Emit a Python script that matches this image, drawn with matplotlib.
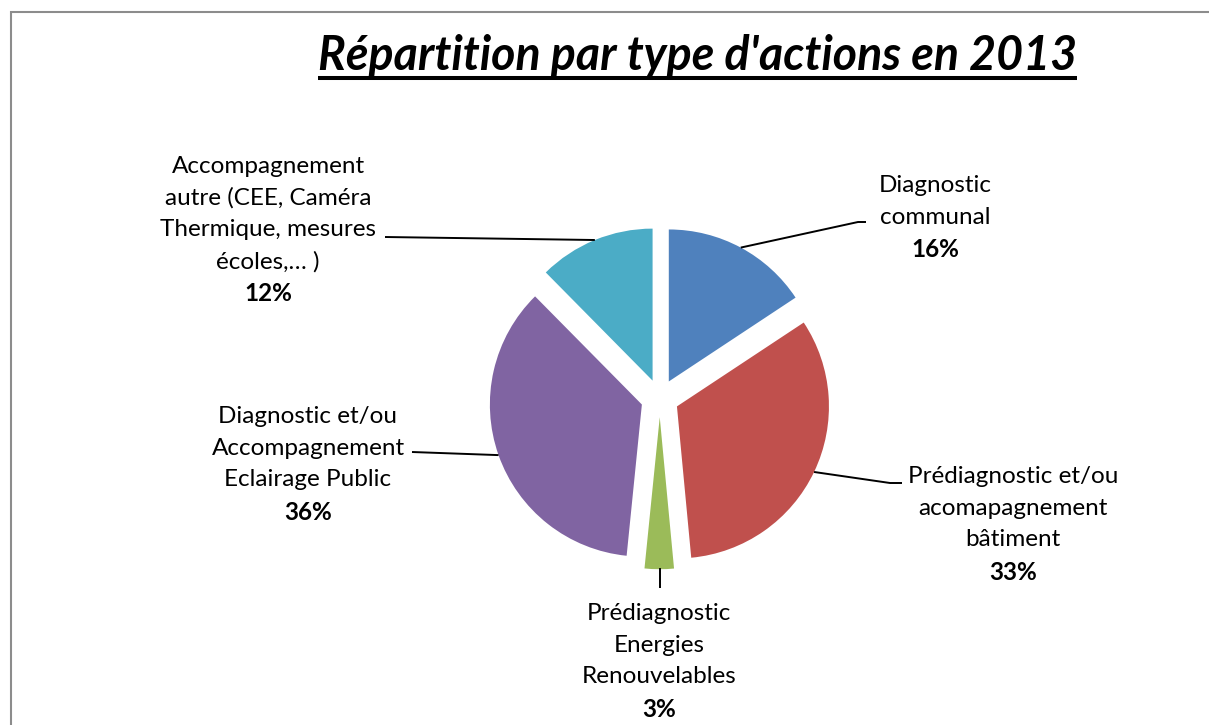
import numpy as np
import matplotlib
matplotlib.use("Agg")
import matplotlib.pyplot as plt
from matplotlib.patches import Rectangle

# ---- data ----
categories = [
    "Diagnostic\ncommunal",
    "Prédiagnostic et/ou\nacomapagnement\nbâtiment",
    "Prédiagnostic\nEnergies\nRenouvelables",
    "Diagnostic et/ou\nAccompagnement\nEclairage Public",
    "Accompagnement\nautre (CEE, Caméra\nThermique, mesures\nécoles,… )",
]
values = [15.7, 32.8, 3.1, 36.0, 12.4]
pct_labels = ["16%", "33%", "3%", "36%", "12%"]
colors = ["#4F81BD", "#C0504D", "#9BBB59", "#8064A2", "#4BACC6"]
title = "Répartition par type d'actions en 2013"

W, H = 1209, 725
FONT = "Lato"

fig = plt.figure(figsize=(W / 100, H / 100), dpi=100)
ax = fig.add_axes([0, 0, 1, 1])

def Y(y):
    return H - y

cx, cy, R = 659.8, Y(398.2), 152.0
explode_dist = 19.0
wedges, _ = ax.pie(values, colors=colors, startangle=90, counterclock=False,
                   explode=[explode_dist] * len(values), radius=R, center=(cx, cy),
                   wedgeprops=dict(linewidth=0))
ax.set_xlim(0, W)
ax.set_ylim(0, H)
ax.set_aspect("equal")
ax.axis("off")

# frame
fig.patches.append(Rectangle((11 / W, 0 - 0.05), 1.1, (H - 12) / H + 0.05,
                             transform=fig.transFigure, fill=False,
                             edgecolor="#8c8c8c", linewidth=1.5))

# label layout (positions)
label_x = [935, 1013, 659, 308, 268]
label_base = [192, 483, 620, 423, 173]
step = 31.7
bold_extra = 1.5
outer_pts = [[(866, 222), (858, 222)],
             [(902, 483), (890, 483)],
             [(660, 588)],
             [(412, 452)],
             [(385, 237)]]

fs = 17.5
for i, w in enumerate(wedges):
    mid = np.deg2rad((w.theta1 + w.theta2) / 2)
    wcx, wcy = w.center
    ax_pt = (wcx + R * np.cos(mid), wcy + R * np.sin(mid))
    pts = [(x, Y(y)) for x, y in outer_pts[i]]
    if i == 2:
        ax_pt = (pts[0][0], wcy + R * np.sin(mid) + 1)
    xs = [p[0] for p in pts] + [ax_pt[0]]
    ys = [p[1] for p in pts] + [ax_pt[1]]
    ax.plot(xs, ys, color="black", lw=1.4, solid_capstyle="butt")
    lines = categories[i].split("\n")
    for j, ln in enumerate(lines):
        ax.text(label_x[i], Y(label_base[i] + j * step), ln, ha="center", va="baseline",
                fontsize=fs, family=FONT, color="black")
    ax.text(label_x[i], Y(label_base[i] + len(lines) * step + bold_extra), pct_labels[i],
            ha="center", va="baseline", fontsize=fs, family=FONT, fontweight="bold", color="black")

# title with underline
t = ax.text(697.5, Y(70), title, ha="center", va="baseline", fontsize=33.5,
            family=FONT, fontweight="bold", fontstyle="italic", color="black")
fig.canvas.draw()
bb = t.get_window_extent(fig.canvas.get_renderer())
ax.plot([bb.x0, bb.x1], [Y(78), Y(78)], color="black", lw=2.9, solid_capstyle="butt")

fig.savefig("out.png", dpi=100)
